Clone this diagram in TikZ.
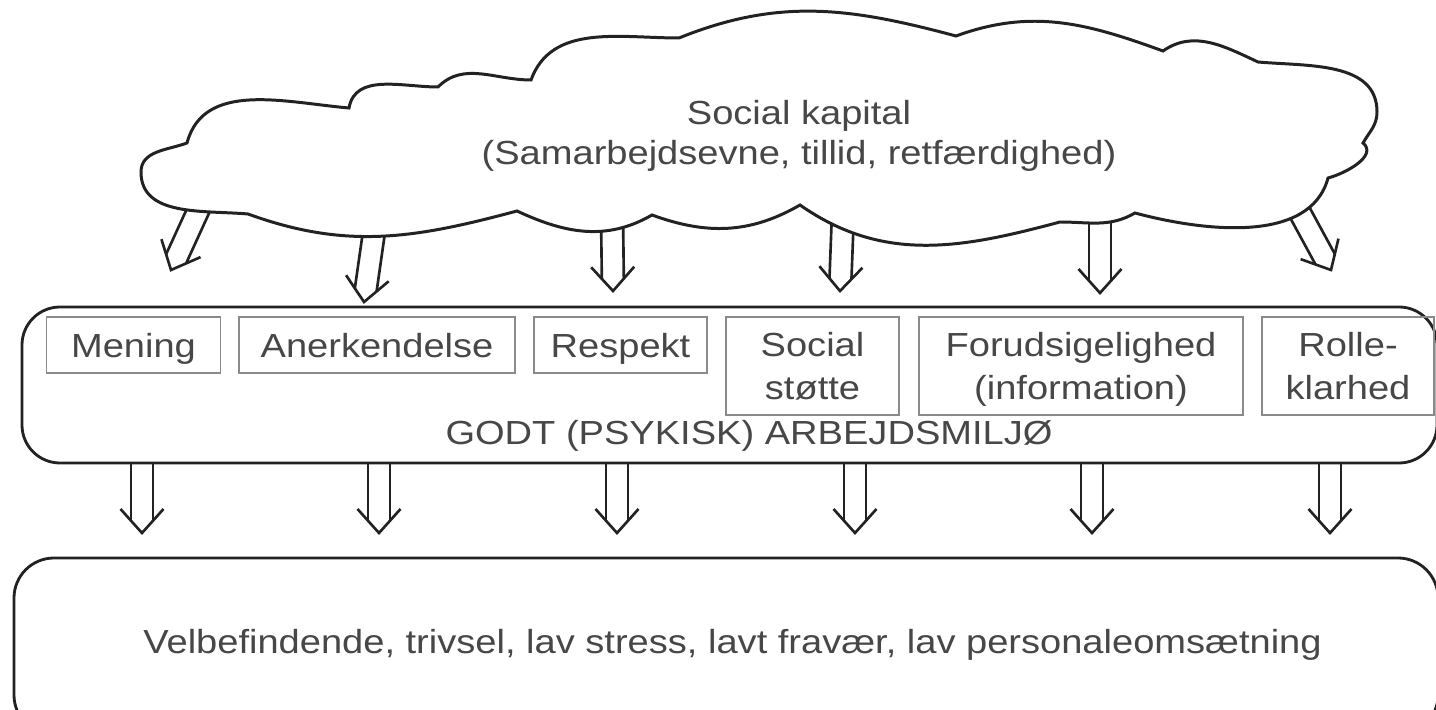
\documentclass[tikz,border=0pt]{standalone}
\usepackage{fontspec}
\setmainfont{Liberation Sans}[FakeStretch=1.14]
\usetikzlibrary{calc}

\definecolor{inkline}{HTML}{222222}
\definecolor{inktext}{HTML}{474747}
\definecolor{framegray}{HTML}{8A8A8A}

\tikzset{
  cloudline/.style={draw=inkline, line width=0.85pt, fill=white},
  boxline/.style={draw=inkline, line width=0.8pt, rounded corners=3.8mm},
  ibox/.style={draw=framegray, line width=0.45pt, inner sep=0pt, rectangle},
  lbl/.style={text=inktext, inner sep=0pt, font=\fontsize{9.5}{11.9}\selectfont},
  arrowline/.style={draw=inkline, line width=0.75pt},
}

% hollow block arrow: two shaft lines and an open V head, from #1 to #2
\newcommand{\blockarrow}[2]{%
  \path ($(#2)!1.23mm!(#1)$) coordinate (#1-m)
        ($(#2)!2.4mm!(#1)$) coordinate (#1-h);
  \draw[arrowline] ($(#1)!1.1mm!-90:(#2)$) -- ($(#1-m)!1.1mm!-90:(#2)$);
  \draw[arrowline] ($(#1)!1.1mm!90:(#2)$) -- ($(#1-m)!1.1mm!90:(#2)$);
  \draw[arrowline] ($(#1-h)!2.15mm!-90:(#2)$) -- (#2) -- ($(#1-h)!2.15mm!90:(#2)$);
}

\begin{document}
\begin{tikzpicture}[x=0.1mm, y=0.1mm]
  \path[use as bounding box, clip] (0,0) rectangle (1436,-710);
  \fill[white] (0,0) rectangle (1436,-710);

  % arrows from the cloud (start inside the cloud, which is drawn over them)
  \coordinate (c1s) at (203,-200); \coordinate (c1t) at (171,-270);
  \coordinate (c2s) at (375,-225); \coordinate (c2t) at (364,-302);
  \coordinate (c3s) at (612,-215); \coordinate (c3t) at (613,-291);
  \coordinate (c4s) at (843,-212); \coordinate (c4t) at (840,-291);
  \coordinate (c5s) at (1100,-212); \coordinate (c5t) at (1100,-293);
  \coordinate (c6s) at (1293,-200); \coordinate (c6t) at (1331,-270);
  \foreach \i in {1,...,6} { \blockarrow{c\i s}{c\i t} }

  % the cloud
  \path[cloudline]
    (187,-143) to[out=75,in=175] (349,-108)
    to[out=80,in=180] (438,-87)
    to[out=45,in=180] (531,-80)
    to[out=70,in=180] (679,-38)
    to[out=22,in=165] (956,-36)
    to[out=20,in=160] (1163,-51)
    to[out=35,in=155] (1258,-62)
    to[out=-5,in=90] (1377,-112)
    to[out=-90,in=60] (1363,-143)
    to[out=-40,in=15] (1328,-178)
    to[out=-105,in=-15,looseness=0.9] (1135,-213)
    to[out=-150,in=0] (1060,-222)
    to[out=-165,in=-35] (800,-205)
    to[out=-150,in=-20] (652,-215)
    to[out=-150,in=-25] (517,-211)
    to[out=-165,in=-20] (248,-214)
    to[out=175,in=-90] (141,-172)
    to[out=90,in=-160] (187,-143) -- cycle;
  \node[lbl, anchor=base] (kap1) at (799,-125) {Social kapital};
  \node[lbl, anchor=base] (kap2) at (799,-165) {(Samarbejdsevne, tillid, retfærdighed)};

  % work environment frame
  \draw[boxline] (22,-307) rectangle (1437,-463);
  \node[ibox, minimum width=17.4mm, minimum height=5.6mm] (mening) at (133.5,-345) {};
  \node[ibox, minimum width=27.6mm, minimum height=5.6mm] (anerk) at (377,-345) {};
  \node[ibox, minimum width=17.3mm, minimum height=5.6mm] (resp) at (620.5,-345) {};
  \node[ibox, minimum width=17.3mm, minimum height=9.8mm] (stotte) at (812.5,-366) {};
  \node[ibox, minimum width=32.4mm, minimum height=9.8mm] (forud) at (1081,-366) {};
  \node[ibox, minimum width=17.2mm, minimum height=9.8mm] (rolle) at (1348,-366) {};
  \node[lbl, anchor=base] (meningT) at (133.5,-358) {Mening};
  \node[lbl, anchor=base] (anerkT) at (377,-358) {Anerkendelse};
  \node[lbl, anchor=base] (respT) at (620.5,-358) {Respekt};
  \node[lbl, anchor=base] (stotteA) at (812.5,-357) {Social};
  \node[lbl, anchor=base] (stotteB) at (812.5,-400) {støtte};
  \node[lbl, anchor=base] (forudA) at (1081,-357) {Forudsigelighed};
  \node[lbl, anchor=base] (forudB) at (1081,-400) {(information)};
  \node[lbl, anchor=base] (rolleA) at (1348,-357) {Rolle-};
  \node[lbl, anchor=base] (rolleB) at (1348,-400) {klarhed};
  \node[lbl, anchor=base] (godt) at (749,-445) {GODT (PSYKISK) ARBEJDSMILJØ};

  % arrows down to the outcome frame
  \foreach \x [count=\i] in {142,379,617,855,1092,1330} {
    \coordinate (d\i s) at (\x,-464);
    \coordinate (d\i t) at (\x,-533);
    \blockarrow{d\i s}{d\i t}
  }

  % outcome frame
  \draw[boxline, rounded corners=4mm] (14,-558) rectangle (1438,-735);
  \node[lbl, anchor=base] (outcome) at (732.5,-654)
    {Velbefindende, trivsel, lav stress, lavt fravær, lav personaleomsætning};
\end{tikzpicture}
\end{document}
